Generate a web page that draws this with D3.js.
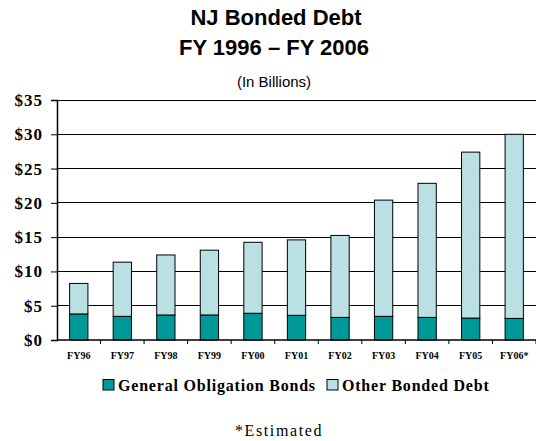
<!DOCTYPE html>
<html><head><meta charset="utf-8">
<script src="https://cdn.jsdelivr.net/npm/d3@7"></script>
<style>body{margin:0;background:#fff}</style>
</head><body>
<svg id="c" width="536" height="441"></svg>
<script>
const categories = ["FY96","FY97","FY98","FY99","FY00","FY01","FY02","FY03","FY04","FY05","FY06*"];
const generalObligation = [3.8,3.45,3.65,3.65,3.9,3.6,3.3,3.45,3.3,3.2,3.15];
const totalDebt = [8.25,11.35,12.4,13.1,14.25,14.6,15.25,20.4,22.85,27.4,30.0];
const otherDebt = totalDebt.map((t,i)=>+(t-generalObligation[i]).toFixed(2));
const yTicks = [0,5,10,15,20,25,30,35];
const seriesNames = ["General Obligation Bonds","Other Bonded Debt"];
const colors = ["#009999","#BBE0E3"];

const svg = d3.select("#c");
const pLeft = 57, pRight = 536, pTop = 100, pBottom = 340;
const x = d3.scaleBand().domain(categories).range([pLeft, pRight]).paddingInner(0.58).paddingOuter(0.29);
const y = d3.scaleLinear().domain([0,35]).range([pBottom, pTop]);

// titles
svg.append("text").attr("x",276).attr("y",25).attr("text-anchor","middle")
  .style("font","bold 22px 'Liberation Sans', Arial").text("NJ Bonded Debt");
svg.append("text").attr("x",274).attr("y",55).attr("text-anchor","middle")
  .style("font","bold 22px 'Liberation Sans', Arial").text("FY 1996 \u2013 FY 2006");
svg.append("text").attr("x",274).attr("y",87).attr("text-anchor","middle")
  .style("font","15px 'Liberation Sans', Arial").text("(In Billions)");

// gridlines
svg.append("g").selectAll("line").data(yTicks.filter(d=>d>0)).join("line")
  .attr("x1",pLeft).attr("x2",pRight).attr("y1",d=>y(d)).attr("y2",d=>y(d))
  .attr("stroke","#000").attr("stroke-width",1).attr("shape-rendering","crispEdges");

// bars
const stack = d3.stack().keys([0,1]).value((d,k)=>d[k]);
const rows = categories.map((c,i)=>[generalObligation[i], otherDebt[i]]);
const layers = stack(rows);
layers.forEach((layer,k)=>{
  svg.append("g").selectAll("rect").data(layer).join("rect")
    .attr("x",(d,i)=>x(categories[i])).attr("width",x.bandwidth())
    .attr("y",d=>y(d[1])).attr("height",d=>y(d[0])-y(d[1]))
    .attr("fill",colors[k]).attr("stroke","#000").attr("stroke-width",1);
});

// y axis
const ya = svg.append("g").attr("transform",`translate(${pLeft},0)`)
  .call(d3.axisLeft(y).tickValues(yTicks).tickSize(6).tickPadding(8).tickFormat(d=>"$"+d));
ya.select(".domain").attr("stroke","#000").attr("stroke-width",1.5);
ya.selectAll("text").style("font","bold 17px 'Liberation Serif', 'Times New Roman'")
  .style("letter-spacing","1px").attr("fill","#000");

// x axis
const xa = svg.append("g").attr("transform",`translate(0,${pBottom})`);
xa.append("line").attr("x1",pLeft).attr("x2",pRight).attr("y1",0).attr("y2",0).attr("stroke","#000").attr("stroke-width",1.5);
const step = x.step();
xa.selectAll("line.t").data(categories).join("line").attr("class","t")
  .attr("x1",d=>x(d)+x.bandwidth()/2+step/2).attr("x2",d=>x(d)+x.bandwidth()/2+step/2)
  .attr("y1",0).attr("y2",4).attr("stroke","#000");
xa.selectAll("text").data(categories).join("text")
  .attr("x",d=>x(d)+x.bandwidth()/2).attr("y",19).attr("text-anchor","middle")
  .style("font","bold 10px 'Liberation Serif', 'Times New Roman'").text(d=>d);

// legend
const leg = [{x:103, tx:118},{x:327, tx:342}];
seriesNames.forEach((n,i)=>{
  svg.append("rect").attr("x",leg[i].x).attr("y",379.5).attr("width",11).attr("height",10.5)
    .attr("fill",colors[i]).attr("stroke","#000");
  svg.append("text").attr("x",leg[i].tx).attr("y",391)
    .style("font","bold 16px 'Liberation Serif', 'Times New Roman'").style("letter-spacing","0.8px").text(n);
});
svg.append("text").attr("x",235).attr("y",436)
  .style("font","16px 'Liberation Serif', 'Times New Roman'").style("letter-spacing","1.6px").text("*Estimated");
</script>
</body></html>
